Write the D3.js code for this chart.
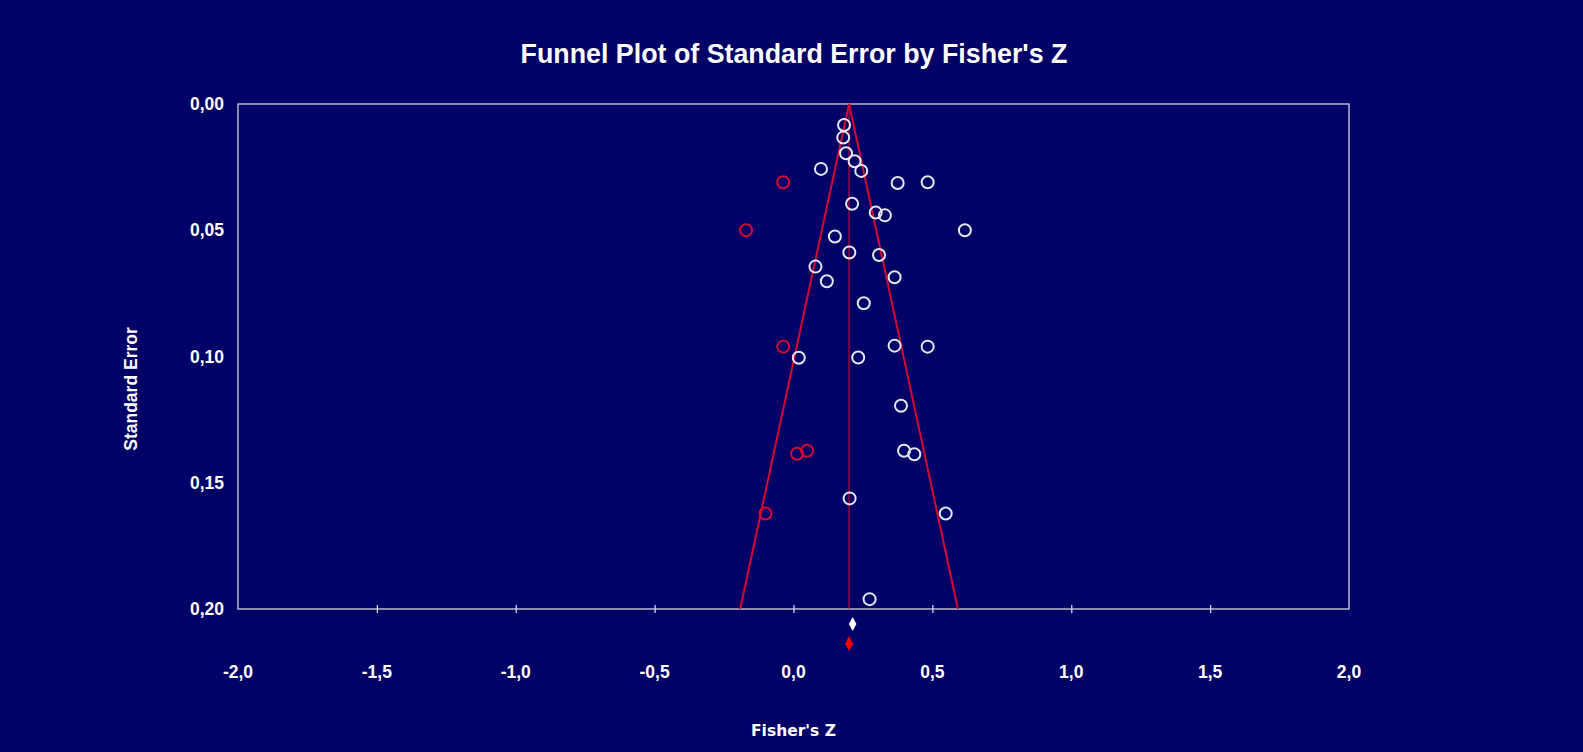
<!DOCTYPE html>
<html>
<head>
<meta charset="utf-8">
<script src="https://cdn.jsdelivr.net/npm/d3@7"></script>
<style>
  html, body { margin: 0; padding: 0; background: #000066; }
  svg { display: block; }
</style>
</head>
<body>
<script>
// Observed studies: Fisher's Z and standard error
const observedZ  = [0.182, 0.179, 0.189, 0.220, 0.244, 0.099, 0.375, 0.483, 0.211, 0.296,
                    0.329, 0.617, 0.149, 0.201, 0.308, 0.079, 0.364, 0.120, 0.253, 0.364,
                    0.483, 0.019, 0.233, 0.387, 0.398, 0.435, 0.202, 0.548, 0.274];
const observedSE = [0.0083, 0.0133, 0.0195, 0.0227, 0.0265, 0.0257, 0.0313, 0.0310, 0.0395, 0.0430,
                    0.0441, 0.0500, 0.0525, 0.0588, 0.0598, 0.0644, 0.0686, 0.0702, 0.0789, 0.0957,
                    0.0961, 0.1005, 0.1004, 0.1195, 0.1373, 0.1387, 0.1562, 0.1622, 0.1961];
// Imputed studies (trim and fill)
const imputedZ  = [-0.037, -0.171, -0.037, 0.013, 0.049, -0.101];
const imputedSE = [0.0310, 0.0500, 0.0961, 0.1385, 0.1373, 0.1622];

// Combined effects
const observedMean = 0.213;
const adjustedMean = 0.200;

const xTicks = [-2.0, -1.5, -1.0, -0.5, 0.0, 0.5, 1.0, 1.5, 2.0];
const yTicks = [0.00, 0.05, 0.10, 0.15, 0.20];
const seMax = 0.20;

const W = 1583, H = 752;
const plot = { left: 238, right: 1349, top: 104, bottom: 609 };

const navy = "#000066";
const frameColor = "#d4d4e4";
const whiteMark = "#e6e6ee";
const redMark = "#d40a32";

const svg = d3.select("body").append("svg")
  .attr("width", W).attr("height", H);

svg.append("rect").attr("width", W).attr("height", H).attr("fill", navy);

const x = d3.scaleLinear().domain([-2, 2]).range([plot.left, plot.right]);
const y = d3.scaleLinear().domain([0, seMax]).range([plot.top, plot.bottom]);

const fmt = (d, n) => d.toFixed(n).replace(".", ",");
const font = "'Liberation Sans', Arial, sans-serif";

// Title
svg.append("text")
  .attr("x", 794).attr("y", 63)
  .attr("text-anchor", "middle")
  .attr("font-family", font).attr("font-weight", "bold")
  .attr("font-size", 26.8).attr("fill", "#ffffff")
  .text("Funnel Plot of Standard Error by Fisher's Z");

// Frame
svg.append("rect")
  .attr("x", plot.left).attr("y", plot.top)
  .attr("width", plot.right - plot.left).attr("height", plot.bottom - plot.top)
  .attr("fill", "none").attr("stroke", frameColor).attr("stroke-width", 1.3);

// X axis ticks crossing the bottom edge
const xAxis = d3.axisBottom(x).tickValues(xTicks.filter(d => Math.abs(d) < 2))
  .tickSize(0).tickFormat("");
const gx = svg.append("g").attr("transform", `translate(0,${plot.bottom})`).call(xAxis);
gx.select(".domain").remove();
gx.selectAll(".tick").append("line")
  .attr("y1", -4).attr("y2", 4)
  .attr("stroke", frameColor).attr("stroke-width", 1.3);

// X tick labels
svg.append("g").selectAll("text").data(xTicks).join("text")
  .attr("x", d => x(d)).attr("y", 678)
  .attr("text-anchor", "middle")
  .attr("font-family", font).attr("font-weight", "bold")
  .attr("font-size", 17.5).attr("fill", "#ffffff")
  .text(d => fmt(d, 1));

// Y tick labels
const yAxis = d3.axisLeft(y).tickValues(yTicks).tickSize(0).tickPadding(14)
  .tickFormat(d => fmt(d, 2));
const gy = svg.append("g").attr("transform", `translate(${plot.left},0)`).call(yAxis);
gy.select(".domain").remove();
gy.selectAll("text")
  .attr("font-family", font).attr("font-weight", "bold")
  .attr("font-size", 17.5).attr("fill", "#ffffff");

// Axis titles
svg.append("text")
  .attr("transform", "translate(137,389) rotate(-90)")
  .attr("text-anchor", "middle")
  .attr("font-family", font).attr("font-weight", "bold")
  .attr("font-size", 17.5).attr("fill", "#ffffff")
  .text("Standard Error");

svg.append("text")
  .attr("x", (plot.left + plot.right) / 2).attr("y", 736)
  .attr("text-anchor", "middle")
  .attr("font-family", "'DejaVu Sans', Verdana, sans-serif").attr("font-weight", "bold")
  .attr("font-size", 15.5).attr("fill", "#ffffff")
  .text("Fisher's Z");

// Funnel: adjusted mean ± 1.96·SE
const funnel = [[adjustedMean - 1.96 * seMax, seMax], [adjustedMean, 0], [adjustedMean + 1.96 * seMax, seMax]];
svg.append("path")
  .attr("d", d3.line().x(d => x(d[0])).y(d => y(d[1]))(funnel))
  .attr("fill", "none").attr("stroke", redMark).attr("stroke-width", 2);

// Vertical line at the adjusted mean
svg.append("line")
  .attr("x1", x(adjustedMean)).attr("x2", x(adjustedMean))
  .attr("y1", y(0)).attr("y2", y(seMax))
  .attr("stroke", redMark).attr("stroke-width", 1);

// Study points
const observed = observedZ.map((z, i) => ({ z, se: observedSE[i] }));
const imputed = imputedZ.map((z, i) => ({ z, se: imputedSE[i] }));

svg.append("g").selectAll("circle").data(observed).join("circle")
  .attr("cx", d => x(d.z)).attr("cy", d => y(d.se)).attr("r", 6)
  .attr("fill", "none").attr("stroke", whiteMark).attr("stroke-width", 2);

svg.append("g").selectAll("circle").data(imputed).join("circle")
  .attr("cx", d => x(d.z)).attr("cy", d => y(d.se)).attr("r", 6)
  .attr("fill", "none").attr("stroke", redMark).attr("stroke-width", 2);

// Combined-effect diamonds below the axis
const diamond = (cx, cy, hw, hh) =>
  `M${cx},${cy - hh}L${cx + hw},${cy}L${cx},${cy + hh}L${cx - hw},${cy}Z`;
svg.append("path").attr("d", diamond(x(observedMean), 624, 3.8, 7)).attr("fill", "#ffffff");
svg.append("path").attr("d", diamond(x(adjustedMean), 643.5, 3.8, 7.5)).attr("fill", "#ff0000");
</script>
</body>
</html>
